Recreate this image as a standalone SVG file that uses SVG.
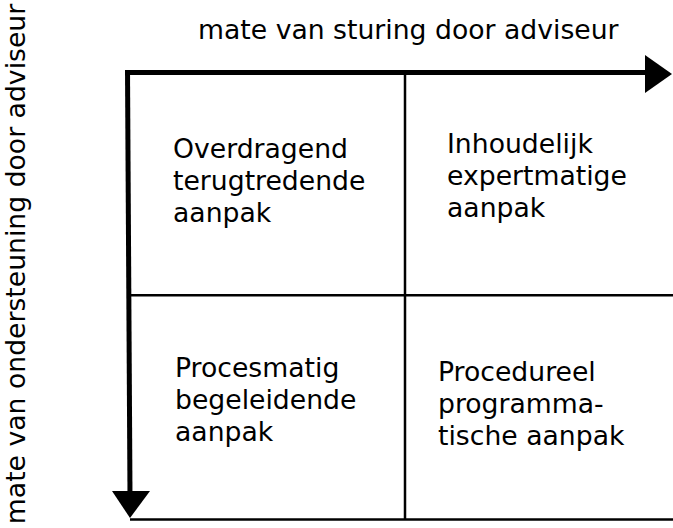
<svg xmlns="http://www.w3.org/2000/svg" width="673" height="528" viewBox="0 0 673 528">
<style>
text{font-family:"DejaVu Sans",Verdana,sans-serif;font-size:26.67px;fill:#000}
.thick{stroke:#000;stroke-width:5;fill:none}
.thin{stroke:#000;stroke-width:2.5;fill:none}
</style>
<rect width="673" height="528" fill="#fff"/>
<g id="connectors">
<line class="thick" x1="129" y1="72.5" x2="650" y2="72.5"/>
<polygon points="645,55 672,74 645,93" fill="#000"/>
<line class="thick" x1="127.5" y1="70" x2="130" y2="495"/>
<polygon points="112,491 150,491 130,518" fill="#000"/>
<line class="thin" x1="405" y1="75" x2="405" y2="520"/>
<line class="thin" x1="130" y1="295.3" x2="673" y2="295.3"/>
<line class="thin" x1="130" y1="519.5" x2="673" y2="519.5"/>
</g>
<g id="axis-x"><text x="198" y="39">mate van sturing door adviseur</text></g>
<g id="axis-y"><text transform="translate(25,264) rotate(-90)" text-anchor="middle">mate van ondersteuning door adviseur</text></g>
<g id="q1"><text x="173" y="158">Overdragend</text><text x="173" y="190">terugtredende</text><text x="173" y="222">aanpak</text></g>
<g id="q2"><text x="447" y="153">Inhoudelijk</text><text x="447" y="185">expertmatige</text><text x="447" y="217">aanpak</text></g>
<g id="q3"><text x="175" y="377">Procesmatig</text><text x="175" y="409">begeleidende</text><text x="175" y="441">aanpak</text></g>
<g id="q4"><text x="438" y="381">Procedureel</text><text x="438" y="413">programma-</text><text x="438" y="445">tische aanpak</text></g>
</svg>
